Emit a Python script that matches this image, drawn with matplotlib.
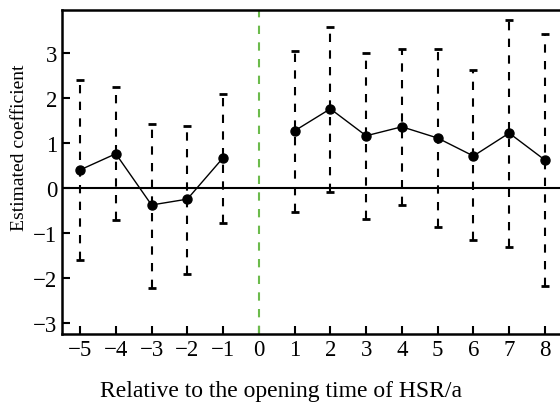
import matplotlib.pyplot as plt

plt.rcParams['font.family'] = ['Liberation Serif', 'DejaVu Serif']
plt.rcParams['axes.unicode_minus'] = True

# event-time periods relative to HSR opening
pre_t = [-5, -4, -3, -2, -1]
pre_coef = [0.40, 0.76, -0.38, -0.25, 0.67]
pre_upper = [2.40, 2.25, 1.43, 1.38, 2.09]
pre_lower = [-1.60, -0.71, -2.22, -1.91, -0.78]

post_t = [1, 2, 3, 4, 5, 6, 7, 8]
post_coef = [1.27, 1.76, 1.16, 1.36, 1.11, 0.71, 1.22, 0.62]
post_upper = [3.05, 3.59, 3.01, 3.10, 3.10, 2.63, 3.74, 3.43]
post_lower = [-0.54, -0.09, -0.70, -0.38, -0.87, -1.16, -1.31, -2.18]

xticks = [-5, -4, -3, -2, -1, 0, 1, 2, 3, 4, 5, 6, 7, 8]
yticks = [-3, -2, -1, 0, 1, 2, 3]

fig = plt.figure(figsize=(5.6, 4.06), dpi=100)
ax = fig.add_axes([0.111, 0.175, 0.894, 0.798])

# confidence intervals as dashed lines with caps
for t, lo, hi in [(pre_t, pre_lower, pre_upper), (post_t, post_lower, post_upper)]:
    ax.vlines(t, lo, hi, colors='black', linestyles=(0, (4, 4)), linewidth=1.5)
    ax.plot(t, hi, linestyle='none', marker='_', color='black', markersize=6, markeredgewidth=2)
    ax.plot(t, lo, linestyle='none', marker='_', color='black', markersize=6, markeredgewidth=2)

ax.plot(pre_t, pre_coef, 'k-', marker='o', markersize=6.5, linewidth=1)
ax.plot(post_t, post_coef, 'k-', marker='o', markersize=6.5, linewidth=1)

ax.axhline(0, color='black', linewidth=1.5)
ax.axvline(0, color='#6cbb4c', linestyle=(0, (4, 4)), linewidth=1.5)

ax.set_xlim(-5.5, 8.5)
ax.set_ylim(-3.25, 3.96)
ax.set_xticks(xticks)
ax.set_yticks(yticks)
ax.tick_params(direction='in', length=6, width=1.5, labelsize=16.5)
for s in ax.spines.values():
    s.set_linewidth(1.8)

ax.set_xlabel('Relative to the opening time of HSR/a', fontsize=17)
ax.set_ylabel('Estimated coefficient', fontsize=14)
ax.xaxis.set_label_coords(0.4375, -0.142)
ax.yaxis.set_label_coords(-0.068, 0.577)

fig.savefig('out.png', dpi=100)
